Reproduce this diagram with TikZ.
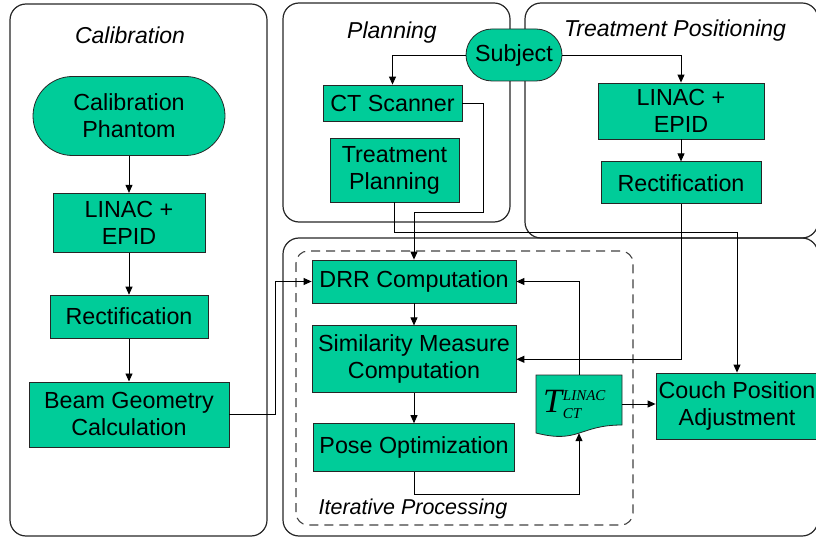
\documentclass[tikz,border=0pt]{standalone}
\usepackage{fontspec}
\setmainfont{Liberation Sans}
\newfontfamily\tmsfont{Liberation Serif}
\usepackage{tikz}
\usetikzlibrary{arrows.meta,positioning,calc}
\definecolor{procgreen}{RGB}{0,204,153}
\tikzset{
  panel/.style={draw=black!85, line width=1.2pt, rounded corners=16pt},
  loopbox/.style={draw=black!75, line width=1.1pt, dash pattern=on 9pt off 6pt,
                  rounded corners=12pt},
  box/.style={draw=black!85, fill=procgreen, line width=0.8pt, align=center,
              inner sep=0pt, font=\fontsize{23.3}{27}\selectfont},
  term/.style={box, rounded corners=#1},
  docshape/.style={draw=black!85, fill=procgreen, line width=0.8pt},
  doc/.style={inner sep=0pt, minimum width=86pt, minimum height=58pt},
  title/.style={font=\fontsize{23}{27}\selectfont\itshape},
  flow/.style={-{Triangle[length=8pt,width=7pt]}, line width=0.9pt},
}

\begin{document}
\begin{tikzpicture}[x=1pt, y=-1pt]
  \useasboundingbox (0,0) rectangle (816,537);
  % panels
  \draw[panel] (10,4) rectangle (267,536);
  \draw[panel] (283,3) rectangle (510,222);
  \draw[panel] (525,3) rectangle (818,238);
  \draw[panel] (283,238) rectangle (818,536);
  \draw[loopbox] (296,251) rectangle (633,525);
  \node[title] (calib) at (130,35) {Calibration};
  \node[title] (plan) at (392,33) {Planning};
  \node[title] (posn) at (675,31) {Treatment Positioning};
  \node[title, font=\fontsize{21.5}{25}\selectfont\itshape] (iter) at (413,509)
    {Iterative Processing};
  % calibration
  \node[term=39.5pt, minimum width=192pt, minimum height=79pt] (phantom)
    at (129,116) {Calibration\\Phantom};
  \node[box, minimum width=152pt, minimum height=59pt, below=37pt of phantom]
    (linacL) {LINAC +\\EPID};
  \node[box, minimum width=158pt, minimum height=43pt, below=42pt of linacL]
    (rectL) {Rectification};
  \node[box, minimum width=200pt, minimum height=65pt, below=43pt of rectL]
    (beam) {Beam Geometry\\Calculation};
  % planning
  \node[box, minimum width=139pt, minimum height=36pt] (ct) at (392.5,103)
    {CT Scanner};
  \node[box, minimum width=129pt, minimum height=64pt] (tplan) at (394.5,170)
    {Treatment\\Planning};
  \node[term=26pt, minimum width=96pt, minimum height=52pt] (subject)
    at (514,55) {Subject};
  % treatment positioning
  \node[box, minimum width=166pt, minimum height=56pt] (linacR) at (681,111)
    {LINAC +\\EPID};
  \node[box, minimum width=160pt, minimum height=42pt, below=22pt of linacR]
    (rectR) {Rectification};
  \node[box, minimum width=162pt, minimum height=66pt] (couch) at (737,406)
    {Couch Position\\Adjustment};
  % iterative processing
  \node[box, minimum width=204pt, minimum height=43pt] (drr) at (414,281.5)
    {DRR Computation};
  \node[box, minimum width=204pt, minimum height=67pt, below=22pt of drr]
    (sim) {Similarity Measure\\Computation};
  \node[box, minimum width=201pt, minimum height=48pt, below=30pt of sim]
    (pose) {Pose Optimization};
  \draw[docshape] (536,375) -- (622,375) -- (622,425)
    .. controls (579,425) and (579,444) .. (536,433) -- cycle;
  \node[doc] (tmat) at (579,404) {\tmsfont\itshape\fontsize{34}{34}\selectfont
    T\kern1pt\makebox[42pt][l]{\fontsize{15}{15}\selectfont
    \rlap{\raisebox{12pt}{LINAC}}\raisebox{-6pt}{CT}}\kern10pt};
  % connectors
  \draw[flow] (phantom) -- (linacL);
  \draw[flow] (linacL) -- (rectL);
  \draw[flow] (rectL) -- (beam);
  \draw[flow] (beam.east) -- ++(46,0) |- (drr.west);
  \draw[flow] (subject.west) -| (ct.north);
  \draw[flow] (subject.east) -| (linacR.north);
  \draw[flow] (linacR) -- (rectR);
  \draw[flow] (ct.east) -| ++(21,109) -| (drr.north);
  \draw[flow] (tplan.south) -- ++(0,30) -| (couch.north);
  \draw[flow] (rectR.south) |- (sim.east);
  \draw[flow] (drr) -- (sim);
  \draw[flow] (sim) -- (pose);
  \draw[flow] (pose.south) -- ++(0,22) -| (tmat.south);
  \draw[flow] (tmat.north) |- (drr.east);
  \draw[flow] (tmat.east) -- (tmat.east -| couch.west);
\end{tikzpicture}
\end{document}
